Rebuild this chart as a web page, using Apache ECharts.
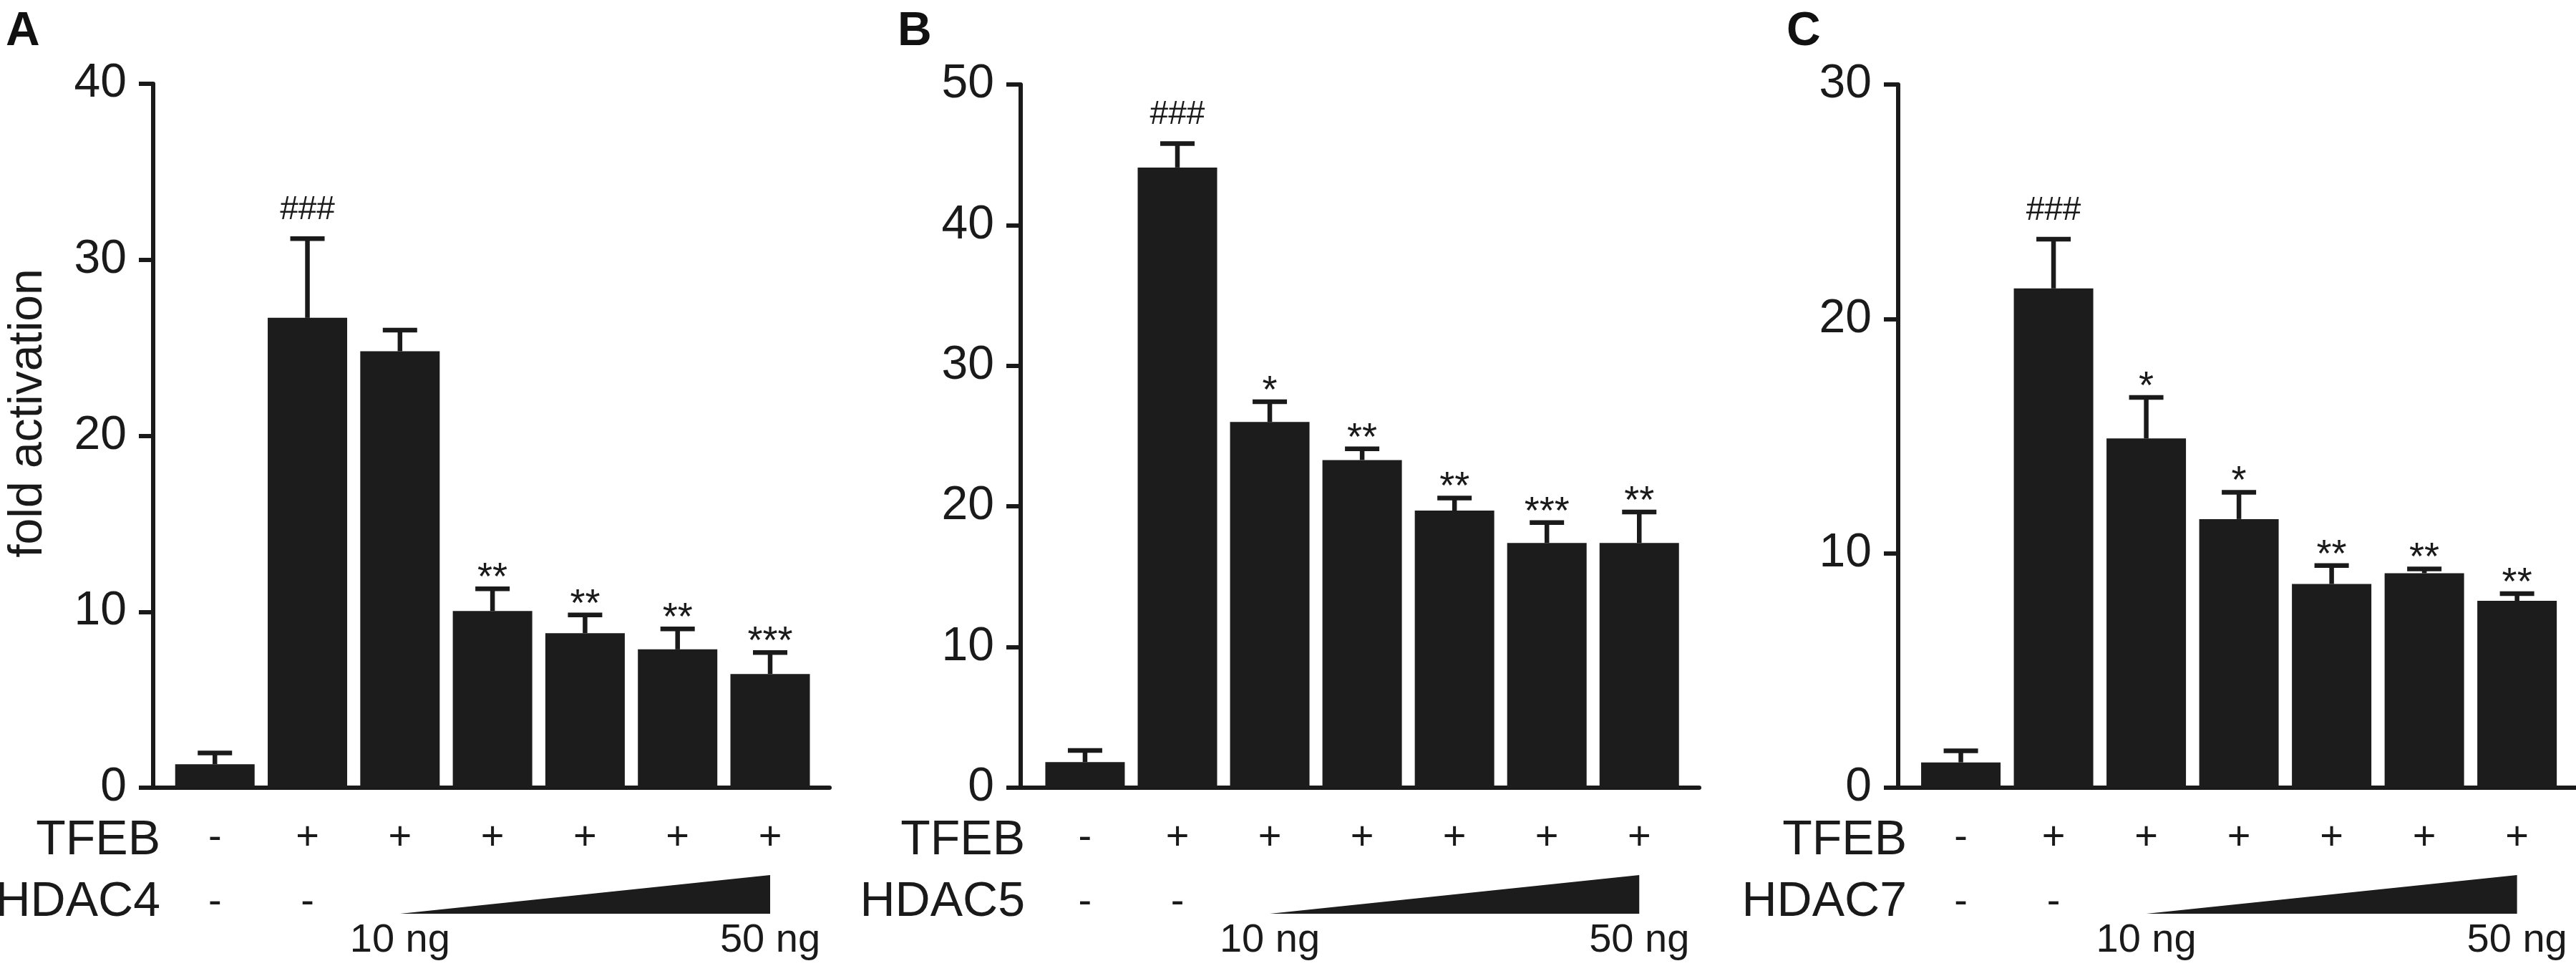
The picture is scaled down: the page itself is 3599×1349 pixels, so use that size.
<!DOCTYPE html>
<html>
<head>
<meta charset="utf-8">
<title>TFEB / HDAC fold activation</title>
<script src="https://cdn.jsdelivr.net/npm/echarts@6/dist/echarts.min.js"></script>
<style>
html, body { margin: 0; padding: 0; background: #fff; }
#chart { width: 3599px; height: 1349px; }
</style>
</head>
<body>
<div id="chart"></div>
<script>
// 数据
var panelLetters = ['A', 'B', 'C'];
var hdacNames = ['HDAC4', 'HDAC5', 'HDAC7'];
var yMax = [40, 50, 30];
var tfebSigns = ['-', '+', '+', '+', '+', '+', '+'];
var hdacSigns = ['-', '-', '', '', '', '', ''];
var doseRange = [2, 6]; // triangle from 3rd to 7th bar
var doseLabels = ['10 ng', '50 ng'];

var meanA = [1.33, 26.7, 24.8, 10.04, 8.78, 7.86, 6.46];
var semA = [0.64, 4.5, 1.2, 1.26, 1.04, 1.16, 1.22];
var sigA = ['', '###', '', '**', '**', '**', '***'];

var meanB = [1.82, 44.1, 26.0, 23.3, 19.7, 17.4, 17.4];
var semB = [0.83, 1.7, 1.45, 0.8, 0.9, 1.45, 2.2];
var sigB = ['', '###', '*', '**', '**', '***', '**'];

var meanC = [1.08, 21.3, 14.9, 11.46, 8.69, 9.15, 7.97];
var semC = [0.49, 2.1, 1.75, 1.14, 0.79, 0.18, 0.31];
var sigC = ['', '###', '*', '*', '**', '**', '**'];

var means = [meanA, meanB, meanC];
var sems = [semA, semB, semC];
var sigs = [sigA, sigB, sigC];

// 布局
var FONT = "'Liberation Sans', Arial, Helvetica, sans-serif";
var INK = '#1a1a1a';
var BAR = '#1c1c1c';
var grids = [
	{ left: 214, top: 117, width: 945, height: 983, xmin: -0.667, xmax: 6.642, nameRight: 224 },
	{ left: 1426, top: 118, width: 948, height: 982, xmin: -0.697, xmax: 6.649, nameRight: 1432 },
	{ left: 2652, top: 118, width: 947, height: 982, xmin: -0.676, xmax: 6.636, nameRight: 2664 }
];
var letterX = [8, 1254, 2496];

var myChart = echarts.init(document.getElementById('chart'));

var option = {
	animation: false,
	backgroundColor: '#fff',
	grid: [],
	xAxis: [],
	yAxis: [],
	series: [],
	graphic: []
};

function makeErrorBars(p) {
	return function(params, api) {
		var i = params.dataIndex;
		var label = sigs[p][i];
		var p0 = api.coord([api.value(0), api.value(1)]);
		var p1 = api.coord([api.value(0), api.value(2)]);
		var children = [{
			type: 'line',
			shape: { x1: p0[0], y1: p0[1], x2: p1[0], y2: p1[1] },
			style: { stroke: INK, lineWidth: 6.5 }
		}, {
			type: 'line',
			shape: { x1: p1[0] - 24, y1: p1[1], x2: p1[0] + 24, y2: p1[1] },
			style: { stroke: INK, lineWidth: 6.5 }
		}];
		if(label) {
			var isHash = label.charAt(0) == '#';
			children.push({
				type: 'text',
				x: p1[0],
				y: isHash ? p1[1] - 40 : p1[1] - 14,
				style: {
					text: label,
					fill: INK,
					font: (isHash ? 46 : 54) + 'px ' + FONT,
					align: 'center',
					verticalAlign: 'middle'
				}
			});
		}
		return { type: 'group', children: children };
	};
}

function renderSigns(params, api) {
	var i = params.dataIndex;
	var c = api.coord([api.value(0), 0]);
	var kids = [{
		type: 'text', x: c[0], y: c[1] + 71,
		style: { text: tfebSigns[i], fill: INK, font: '56px ' + FONT, align: 'center', verticalAlign: 'middle' }
	}];
	if(hdacSigns[i]) {
		kids.push({
			type: 'text', x: c[0], y: c[1] + 161,
			style: { text: hdacSigns[i], fill: INK, font: '56px ' + FONT, align: 'center', verticalAlign: 'middle' }
		});
	}
	return { type: 'group', children: kids };
}

function renderDose(params, api) {
	var a = api.coord([api.value(0), 0]);
	var b = api.coord([api.value(1), 0]);
	return {
		type: 'group',
		children: [{
			type: 'polygon',
			shape: { points: [[a[0], a[1] + 176], [b[0], b[1] + 176], [b[0], b[1] + 122]] },
			style: { fill: BAR }
		}, {
			type: 'text', x: a[0], y: a[1] + 214,
			style: { text: doseLabels[0], fill: INK, font: '56px ' + FONT, align: 'center', verticalAlign: 'middle' }
		}, {
			type: 'text', x: b[0], y: b[1] + 214,
			style: { text: doseLabels[1], fill: INK, font: '56px ' + FONT, align: 'center', verticalAlign: 'middle' }
		}]
	};
}

for(var p = 0; p < 3; p++) {
	var g = grids[p];
	option.grid.push({ left: g.left, top: g.top, width: g.width, height: g.height });
	option.xAxis.push({
		gridIndex: p,
		type: 'value',
		min: g.xmin,
		max: g.xmax,
		axisLine: { show: true, onZero: false, lineStyle: { color: INK, width: 6 } },
		axisTick: { show: false },
		axisLabel: { show: false },
		splitLine: { show: false }
	});
	option.yAxis.push({
		gridIndex: p,
		type: 'value',
		min: 0,
		max: yMax[p],
		interval: 10,
		axisLine: { show: true, onZero: false, lineStyle: { color: INK, width: 6 } },
		axisTick: { show: true, length: 20, lineStyle: { color: INK, width: 6 } },
		axisLabel: { color: INK, fontSize: 66, fontFamily: FONT, margin: 37 },
		splitLine: { show: false }
	});

	// 柱子
	option.series.push({
		type: 'bar',
		xAxisIndex: p,
		yAxisIndex: p,
		barWidth: 111,
		itemStyle: { color: BAR },
		data: means[p].map(function(v, i) { return [i, v]; })
	});

	// 误差线 + 显著性标记
	option.series.push({
		type: 'custom',
		xAxisIndex: p,
		yAxisIndex: p,
		z: 5,
		clip: false,
		data: means[p].map(function(v, i) { return [i, v, v + sems[p][i]]; }),
		renderItem: makeErrorBars(p)
	});

	// TFEB / HDAC 行的 + -
	option.series.push({
		type: 'custom',
		xAxisIndex: p,
		yAxisIndex: p,
		clip: false,
		data: tfebSigns.map(function(s, i) { return [i]; }),
		renderItem: renderSigns
	});

	// 剂量三角形
	option.series.push({
		type: 'custom',
		xAxisIndex: p,
		yAxisIndex: p,
		clip: false,
		data: [[doseRange[0], doseRange[1]]],
		renderItem: renderDose
	});

	// 文字
	option.graphic.push({
		type: 'text', left: letterX[p], top: 12,
		style: { text: panelLetters[p], fill: '#111', font: 'bold 66px ' + FONT }
	});
	option.graphic.push({
		type: 'text', x: g.nameRight, y: 1174,
		style: { text: 'TFEB', fill: INK, font: '68px ' + FONT, align: 'right', verticalAlign: 'middle' }
	});
	option.graphic.push({
		type: 'text', x: g.nameRight, y: 1260,
		style: { text: hdacNames[p], fill: INK, font: '68px ' + FONT, align: 'right', verticalAlign: 'middle' }
	});
}

option.graphic.push({
	type: 'text', x: 40, y: 577, rotation: Math.PI / 2,
	style: { text: 'fold activation', fill: INK, font: '66px ' + FONT, align: 'center', verticalAlign: 'middle' }
});

myChart.setOption(option);
window.onresize = myChart.resize;
</script>
</body>
</html>
